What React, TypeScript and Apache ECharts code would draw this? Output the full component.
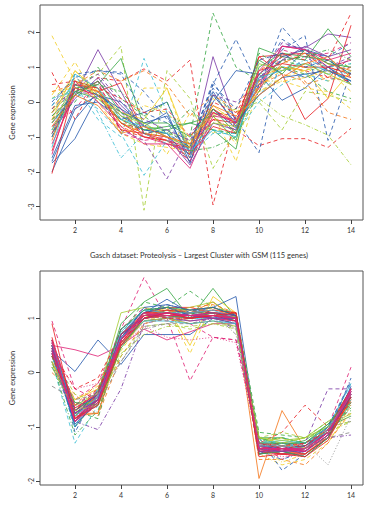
import React, { useEffect, useRef } from "react";
import * as echarts from "echarts";

const timePoints = [1, 2, 3, 4, 5, 6, 7, 8, 9, 10, 11, 12, 13, 14];
const xTicks = [2, 4, 6, 8, 10, 12, 14];
const topYTicks = [-3, -2, -1, 0, 1, 2];
const bottomYTicks = [-2, -1, 0, 1];
const bottomTitle = "Gasch dataset: Proteolysis \u2013 Largest Cluster with GSM (115 genes)";
const yName = "Gene expression";

// Top cluster: expression profiles
const topGenes: number[][] = [
  [-0.6, 0.2, 1.5, 0.3, -0.9, -1.0, -1.5, 1.3, -0.6, 0.3, 1.6, 1.55, 1.95, 1.85],
  [-0.3, 0.6, 0.4, -0.6, -0.8, -0.9, -1.0, 2.55, 1.0, 0.6, 1.2, 1.0, 0.8, 1.1],
  [-0.2, 0.5, 0.8, 1.6, -3.1, 0.9, 0.1, -1.9, -0.8, 0.8, 1.0, 0.9, 1.2, 1.0],
  [0.85, -0.5, 0.7, 0.6, 0.95, 0.6, 1.2, -2.95, -0.4, 0.7, 1.0, 0.9, 0.7, 1.3],
  [-0.3, 0.4, 0.2, -0.8, -1.0, -1.1, -1.7, -0.5, -0.8, -1.25, -1.05, -1.05, -1.3, -0.75],
  [1.9, 0.6, 0.2, -0.9, -1.2, -1.3, -1.4, -0.3, -1.7, 0.5, 0.9, 1.0, 0.6, 0.8],
  [-0.1, 0.8, 0.9, 0.85, 0.3, -0.5, -1.2, 0.5, 1.8, 0.4, 2.15, 1.4, 1.0, 1.2],
  [-0.6, 0.3, 0.6, -0.2, -0.8, -0.9, -1.3, 0.6, -0.5, -1.45, 1.5, 1.9, -1.1, 0.9],
  [-0.9, 0.5, 0.3, 0.55, -0.9, -1.1, -1.3, -0.5, -0.6, 1.3, 0.8, -0.5, 0.1, 2.2],
  [-0.5, 0.3, 0.5, -0.5, -0.9, -1.0, -1.3, -0.3, -0.4, 0.5, 1.3, 1.5, 1.2, 2.55],
  [-0.8, 0.4, 0.5, 1.25, -0.7, -0.8, -0.6, -0.8, -1.35, 1.55, 1.3, 1.2, 2.1, 1.3],
  [-0.3, 0.4, 0.3, -0.6, -0.9, -0.8, -1.2, 0.2, -0.3, 0.1, -0.4, -0.65, -0.95, -1.8],
  [0.1, 0.6, 0.4, -0.4, -0.7, -0.9, -1.1, -0.4, -0.2, 0.0, -0.8, 0.3, 0.2, 0.0],
  [-0.1, 0.5, -0.5, -1.0, 1.25, -0.3, -1.2, -0.8, -0.9, 0.5, 1.0, 1.1, 0.8, 0.9],
  [-0.4, 0.3, 0.2, -0.8, -1.1, -2.2, -0.9, -0.2, -0.7, 0.6, 1.2, 1.3, 0.9, 1.0],
  [-1.75, -1.05, 0.2, 0.0, -0.7, -0.3, -1.75, 0.3, -0.7, 0.8, 1.3, 1.5, 1.3, 0.5],
  [-2.0, -0.5, 0.3, -0.4, -0.8, -0.9, -1.7, -0.2, -0.75, 0.5, 1.0, 0.7, 1.0, 0.6],
  [-1.6, -0.1, 0.0, -0.5, -0.3, 0.0, -1.5, 0.0, 0.9, 0.8, 0.05, 0.4, 1.0, 0.5],
  [-2.05, 0.5, 0.4, -0.8, -0.9, -1.2, -1.3, -0.2, -0.6, 1.3, 1.35, 1.4, 0.9, 0.7],
  [-0.2, 0.7, 0.3, -0.7, -1.0, -1.1, -1.6, -0.4, -0.9, 0.5, 0.8, 0.6, -0.3, -0.5],
  [0.2, 1.15, 0.0, -0.9, 0.4, 0.4, -1.5, 0.1, -0.3, 0.3, 0.7, 0.9, 1.1, 0.5],
  [-0.5, 0.9, 0.3, -0.3, -0.5, 0.4, -1.3, -0.1, -0.6, 0.7, 1.0, 0.9, 0.1, 0.9],
  [-1.2, 0.2, 0.6, -0.2, -1.0, -1.2, -1.9, -0.4, -0.5, 0.4, 1.6, 1.5, 1.0, 1.2],
  [-1.0, 0.3, 0.1, -0.5, -0.8, -0.7, -0.6, -0.4, -1.1, 1.0, 1.4, 1.3, 1.2, 0.8],
  [-0.8, 0.8, -0.3, -1.6, -0.9, -1.2, -1.4, -0.6, -0.8, 0.2, 0.9, 1.2, 1.0, 1.1],
  [-0.9, 0.1, 0.7, -0.1, -0.7, -1.0, -1.8, -0.6, -0.8, 0.7, 1.2, 1.6, 1.3, 1.5],
  [-1.1, 0.6, 0.3, -0.6, -0.9, -1.0, -1.2, -0.3, -0.6, 0.4, 1.1, 1.4, 1.1, 0.9],
  [0.0, 0.7, 0.9, 0.8, -0.3, -0.6, -1.4, 0.4, -0.5, 0.6, 1.8, 1.4, 1.3, 1.7],
  [-0.5, 0.0, 1.0, 0.1, -0.4, -0.9, -0.2, -0.8, -0.9, 1.4, 1.0, 0.8, 0.3, 0.1],
  [-1.4, 0.4, 0.2, -0.6, -1.0, -1.1, -1.5, -0.7, -0.9, 0.9, 1.1, 1.0, 1.0, 0.8],
  [-0.7, -0.2, 0.6, -0.9, -1.1, -1.0, -1.7, -0.3, -0.6, 0.6, 1.5, 1.3, 1.4, 1.7],
  [-1.3, 0.8, 0.4, -0.5, -0.7, -0.9, -1.4, -0.8, -1.0, 0.7, 0.9, 1.1, 0.9, 0.6],
  [0.3, 0.4, 0.1, -0.3, -0.6, -1.5, -0.3, -0.9, -0.5, 0.3, 0.6, 0.4, 0.3, -0.2],
  [-0.4, 0.2, 0.6, -0.3, -0.6, -0.6, -1.0, -0.2, -0.9, 1.2, 0.8, 1.5, 1.1, 1.0],
  [0.3, 0.5, 0.9, 0.6, 0.9, 0.5, -0.4, 0.2, -0.2, 0.9, 1.3, 0.5, 0.7, 1.0],
  [-1.7, -0.2, 0.2, -0.2, -0.6, -0.4, -1.6, 0.2, -0.6, 0.2, 0.7, 0.8, 0.9, 0.6],
  [-0.2, 0.4, 0.8, 0.0, -0.5, -0.8, -1.1, 0.2, 0.0, 0.5, 1.7, 1.5, 1.0, 1.3],
  [0.5, 0.6, 0.4, 0.1, -0.3, -0.2, -1.0, 0.0, -0.3, 0.8, 1.4, 1.2, 0.7, 0.6],
  [-0.6, 0.5, 0.2, -0.4, -0.6, -1.0, -1.3, -0.6, -0.7, 1.1, 0.9, 1.1, 0.8, 0.5],
  [0.1, 0.3, -0.2, -0.9, -2.1, -1.1, -1.5, -0.9, -0.9, 0.0, 0.5, 0.8, 0.6, 0.9],
  [-1.5, 0.6, 0.0, -0.7, -1.2, -1.2, -1.4, -0.3, -0.6, 0.9, 1.6, 1.5, 1.2, 1.4],
  [-0.9, 0.3, 0.5, 0.3, -0.4, 0.0, -1.4, -1.3, -1.0, 0.3, 1.2, 1.3, 1.5, 1.2],
  [-0.7, 0.2, -0.1, -0.9, -0.7, -1.0, -1.2, -0.1, -0.4, 0.2, 0.7, 1.1, 1.3, 0.7],
  [-1.0, 0.5, 0.2, -0.3, -0.9, -0.8, -1.3, 0.5, -0.2, 1.2, 1.4, 1.0, 1.2, 0.8],
  [-0.3, 0.9, 0.2, -0.6, -0.1, -0.3, -1.0, -0.4, -1.2, 0.6, 0.6, 0.7, 0.9, 0.3],
];
const topColors = [
  "purple", "green", "lime", "red", "red", "yellow", "blue", "blue", "red", "red",
  "green", "lime", "lime", "cyan", "purple", "blue", "blue", "blue", "red", "orange",
  "yellow", "yellow", "magenta", "green", "cyan", "purple", "orange", "blue", "green", "red",
  "magenta", "cyan", "yellow", "green", "orange", "blue", "purple", "red", "lime", "cyan",
  "magenta", "green", "orange", "blue", "yellow",
];
const topLty = [
  "s", "d", "d", "d", "d", "d", "d", "d", "s", "d",
  "s", "dd", "d", "d", "d", "s", "s", "s", "s", "d",
  "d", "s", "s", "s", "dd", "s", "s", "d", "d", "s",
  "d", "s", "d", "s", "d", "s", "d", "d", "s", "d",
  "s", "dd", "s", "d", "dd",
];

// Bottom cluster: 115-gene proteolysis cluster (subset of profiles)
const bottomGenes: number[][] = [
  [0.4, 0.02, 0.6, 0.15, 0.7, 0.7, 0.7, 1.0, 1.1, -1.3, -1.3, -1.3, -1.0, -0.3],
  [0.5, 0.42, 0.3, 0.5, 0.8, 0.6, 0.75, 0.9, 0.9, -1.4, -1.5, -1.5, -1.2, -0.5],
  [0.95, -0.3, -0.5, 0.8, 1.75, 1.0, -0.15, 0.65, 0.6, -1.3, -1.6, -1.4, -1.0, 0.1],
  [0.2, -0.6, -0.5, 0.4, 1.0, 1.2, 0.35, 1.3, 1.0, -1.5, -1.7, -1.6, -1.3, -0.6],
  [0.5, -1.0, -0.5, 0.9, 1.3, 1.55, 1.0, 1.55, 1.0, -1.2, -1.2, -1.3, -1.0, -0.8],
  [0.5, -0.8, -0.75, 0.5, 1.1, 1.2, 1.1, 1.3, 1.0, -1.95, -0.7, -1.4, -1.0, -0.3],
  [0.3, -0.6, -0.3, 0.7, 1.0, 1.1, 1.1, 1.1, 1.0, -1.3, -1.1, -0.6, -1.0, -0.5],
  [0.6, -1.1, -0.3, 0.8, 1.1, 1.2, 1.1, 1.0, 0.9, -1.2, -1.8, -1.5, -1.0, -0.2],
  [0.3, -0.7, -0.5, 0.5, 0.9, 1.0, 1.0, 1.1, 0.9, -1.3, -1.4, -1.3, -1.7, -0.8],
  [0.2, -0.9, -1.05, -0.3, 0.9, 1.0, 0.9, 1.0, 0.8, -1.4, -1.3, -1.4, -1.2, -1.15],
  [0.3, -0.5, -0.2, 0.8, 1.2, 1.0, 0.9, 0.65, 0.6, -1.3, -1.4, -1.3, -1.1, -0.4],
  [0.3, -0.9, -0.4, 0.6, 1.1, 1.35, 1.1, 1.2, 1.4, -1.4, -1.5, -1.4, -1.1, -0.3],
  [0.2, -1.3, -0.6, 0.5, 1.0, 1.1, 1.0, 1.0, 0.9, -1.3, -1.2, -1.3, -1.1, -0.6],
  [0.65, -0.8, -0.4, 0.6, 1.1, 1.2, 1.2, 1.1, 1.1, -1.5, -1.4, -1.5, -1.2, -0.4],
  [0.0, -0.4, -0.8, 0.3, 0.9, 1.0, 1.1, 1.2, 1.0, -1.6, -1.6, -1.7, -1.3, -0.7],
  [0.1, -0.7, -0.85, 0.7, 1.3, 1.2, 1.5, 1.2, 1.1, -1.1, -1.15, -1.2, -0.9, -0.7],
  [0.3, -0.6, -0.4, 1.1, 1.2, 1.1, 1.2, 1.3, 1.0, -1.2, -1.3, -1.2, -0.9, -0.6],
  [0.4, -1.0, -0.3, 0.5, 1.0, 1.05, 1.0, 1.0, 0.95, -1.4, -1.3, -1.4, -1.0, -0.2],
  [0.5, -0.7, -0.4, 0.6, 1.1, 1.0, 1.1, 1.1, 1.0, -1.5, -1.4, -1.4, -1.1, -0.4],
  [0.3, -0.5, -0.3, 0.5, 1.0, 1.2, 0.5, 1.4, 1.1, -1.3, -1.2, -1.4, -1.1, -0.5],
  [0.2, -0.75, -0.75, 0.6, 1.1, 1.1, 1.0, 1.1, 1.05, -1.4, -1.5, -1.4, -1.2, -0.5],
  [0.6, -0.9, -0.5, 0.7, 1.15, 1.2, 1.05, 1.0, 1.0, -1.3, -1.4, -1.5, -1.2, -0.4],
  [0.4, -0.85, -0.6, 0.7, 1.0, 1.15, 1.1, 1.1, 0.95, -1.2, -1.35, -1.25, -0.95, -0.55],
  [0.45, -0.8, -0.5, 0.6, 1.0, 1.05, 0.95, 1.0, 0.95, -1.45, -1.5, -1.45, -1.15, -0.35],
  [0.1, -0.6, -0.6, 0.2, 0.8, 0.9, 1.0, 1.1, 0.7, -1.3, -1.5, -1.4, -1.0, -0.9],
  [0.4, -0.3, -0.1, 0.7, 1.0, 0.95, 1.0, 1.15, 1.1, -1.35, -1.3, -1.35, -1.05, -0.3],
  [0.3, -0.4, -0.55, 0.3, 0.85, 0.9, 0.8, 0.9, 0.85, -1.2, -1.1, -1.2, -1.0, -0.9],
  [0.5, -1.0, -0.45, 0.8, 1.1, 1.25, 1.15, 1.1, 1.0, -1.45, -1.6, -1.45, -1.15, -0.1],
  [0.35, -0.9, -0.5, 0.5, 0.95, 1.0, 1.05, 1.05, 1.0, -1.25, -1.3, -1.35, -1.05, -0.5],
  [0.6, -0.6, -0.35, 0.65, 1.05, 1.15, 1.0, 1.05, 0.95, -1.4, -1.45, -1.3, -0.3, -0.3],
  [0.6, -0.7, -0.45, 0.55, 1.05, 1.15, 1.15, 1.2, 1.05, -1.5, -1.45, -1.5, -1.15, -0.45],
  [0.55, -0.85, -0.5, 0.7, 1.1, 1.1, 1.05, 1.1, 1.05, -1.45, -1.4, -1.45, -1.1, -0.35],
  [0.4, -0.75, -0.45, 0.6, 1.05, 1.05, 1.0, 1.05, 1.0, -1.35, -1.45, -1.35, -1.05, -0.45],
  [0.2, -1.15, -0.7, 0.55, 1.05, 1.1, 1.1, 1.0, 0.9, -1.25, -1.2, -1.3, -1.1, -0.65],
  [0.15, -0.5, -0.25, 0.45, 0.95, 1.05, 0.95, 1.2, 1.0, -1.35, -1.65, -1.5, -1.25, -0.75],
  [0.35, -0.95, -0.55, 0.5, 1.0, 1.1, 1.0, 1.05, 0.95, -1.5, -1.45, -1.55, -1.2, -0.25],
  [0.45, -0.7, -0.35, 0.65, 1.1, 1.15, 1.1, 1.15, 1.1, -1.4, -1.35, -1.4, -1.05, -0.3],
  [0.3, -0.8, -0.45, 0.75, 1.15, 1.1, 1.1, 1.15, 1.0, -1.3, -1.25, -1.3, -1.0, -0.5],
  [0.5, -0.6, -0.2, 0.6, 1.0, 1.1, 1.2, 1.25, 1.1, -1.35, -1.35, -1.35, -1.1, -0.4],
  [0.35, -0.85, -0.5, 0.5, 0.95, 1.0, 0.95, 1.0, 0.9, -1.35, -1.4, -1.4, -1.1, -0.45],
  [0.55, -0.9, -0.6, 0.6, 1.05, 1.05, 1.0, 1.1, 1.0, -1.4, -1.35, -1.45, -1.1, -0.3],
  [0.2, -0.65, -0.5, 0.5, 0.95, 1.0, 0.9, 0.95, 0.85, -1.2, -1.25, -1.2, -1.0, -0.75],
  [0.45, -0.8, -0.35, 0.8, 1.15, 1.2, 1.15, 1.2, 1.05, -1.3, -1.3, -1.3, -0.95, -0.45],
  [0.6, -0.85, -0.55, 0.55, 1.0, 1.05, 1.05, 1.05, 1.0, -1.45, -1.5, -1.5, -1.2, -0.4],
  [0.4, -0.75, -0.4, 0.65, 1.1, 1.2, 1.05, 1.1, 1.05, -1.35, -1.4, -1.35, -1.0, -0.15],
  [0.5, -0.75, -0.5, 0.65, 1.05, 1.1, 1.05, 1.1, 1.05, -1.4, -1.45, -1.4, -1.1, -0.35],
  [0.35, -0.65, -0.4, 0.7, 1.05, 1.1, 1.0, 1.05, 1.0, -1.3, -1.35, -1.3, -1.05, -0.5],
  [0.3, -0.55, -0.6, 0.45, 1.0, 1.05, 1.0, 1.1, 1.0, -1.5, -1.45, -1.55, -1.2, -0.55],
  [0.45, -0.85, -0.45, 0.6, 1.0, 1.1, 1.0, 1.05, 1.0, -1.35, -1.45, -1.4, -1.05, -0.4],
  [0.5, -0.7, -0.4, 0.6, 1.2, 1.25, 1.15, 1.2, 1.05, -1.4, -1.4, -1.35, -1.1, -0.45],
  [0.4, -0.9, -0.5, 0.55, 1.0, 1.05, 1.05, 1.0, 0.95, -1.45, -1.4, -1.45, -1.15, -0.3],
  [0.55, -0.8, -0.45, 0.65, 0.95, 0.95, 0.9, 0.95, 0.9, -1.35, -1.35, -1.4, -1.05, -0.4],
  [0.3, -0.7, -0.3, 0.55, 1.05, 1.0, 1.0, 1.05, 0.95, -1.3, -1.4, -1.35, -1.05, -0.55],
  [0.45, -0.75, -0.5, 0.7, 1.0, 1.1, 1.05, 1.0, 1.0, -1.45, -1.45, -1.45, -1.15, -0.35],
  [0.6, -0.65, -0.4, 0.6, 1.1, 1.05, 1.05, 1.1, 1.0, -1.4, -1.4, -1.45, -1.1, -0.4],
  [-0.25, -0.5, -0.4, 0.2, 0.85, 0.9, 0.9, 0.95, 0.85, -1.3, -1.35, -1.4, -1.2, -1.1],
  [0.1, -0.7, -0.6, 0.35, 0.7, 0.85, 0.85, 0.9, 0.8, -1.2, -1.3, -1.2, -1.1, -0.9],
  [0.35, -0.3, -0.2, 0.5, 0.85, 0.65, 0.6, 0.65, 0.55, -1.4, -1.55, -1.5, -1.2, -0.6],
  [0.9, -0.85, -0.6, 0.5, 1.0, 1.1, 1.0, 1.05, 1.1, -1.55, -1.5, -1.55, -1.25, -0.45],
  [0.55, -0.9, -0.55, 0.6, 1.05, 1.1, 1.05, 1.05, 1.0, -1.4, -1.4, -1.4, -1.1, -0.35],
];
const bottomColors = [
  "blue", "magenta", "magenta", "yellow", "green", "orange", "red", "blue", "gray", "purple",
  "magenta", "blue", "cyan", "red", "orange", "green", "lime", "cyan", "purple", "yellow",
  "orange", "blue", "green", "magenta", "gray", "red", "lime", "blue", "cyan", "purple",
  "orange", "red", "magenta", "green", "yellow", "blue", "red", "cyan", "orange", "purple",
  "magenta", "lime", "green", "red", "blue", "purple", "red", "green", "magenta", "blue",
  "magenta", "cyan", "red", "purple", "magenta", "gray", "lime", "magenta", "red", "magenta",
];
const bottomLty = [
  "s", "s", "d", "d", "s", "s", "d", "d", "o", "dd",
  "d", "s", "d", "s", "d", "d", "s", "s", "s", "s",
  "s", "s", "s", "s", "dd", "d", "d", "dd", "dd", "d",
  "s", "s", "s", "dd", "dd", "s", "s", "s", "d", "s",
  "d", "s", "s", "s", "d", "s", "d", "s", "s", "s",
  "s", "s", "d", "s", "s", "d", "dd", "o", "s", "s",
];

const palette: Record<string, string> = {
  red: "#E8262A",
  orange: "#F47A20",
  yellow: "#F2CF2A",
  lime: "#A8CF3A",
  green: "#3DAA4A",
  cyan: "#3FBFD4",
  blue: "#2D5FB0",
  purple: "#7D3FA8",
  magenta: "#E0287A",
  gray: "#8A8A8A",
};
const dashes: Record<string, any> = {
  s: "solid",
  d: [4, 3],
  dd: [1, 2, 4, 2],
  o: [1, 2],
};

const FONT = "Lato";

function makeSeries(genes: number[][], colors: string[], lty: string[], gi: number) {
  return genes.map((g, k) => ({
    type: "line",
    xAxisIndex: gi,
    yAxisIndex: gi,
    data: g.map((v, i) => [timePoints[i], v]),
    symbol: "none",
    silent: true,
    animation: false,
    lineStyle: { width: 0.85, color: palette[colors[k]], type: dashes[lty[k]] },
    emphasis: { disabled: true },
  }));
}

function xAxis(gi: number) {
  return {
    type: "value",
    gridIndex: gi,
    min: 0.48,
    max: 14.52,
    axisLine: { show: false, onZero: false },
    splitLine: { show: false },
    axisTick: { show: true, customValues: xTicks, length: 4, lineStyle: { color: "#444", width: 1 } },
    axisLabel: { customValues: xTicks, fontSize: 7, color: "#333", margin: 6, fontFamily: FONT },
  };
}

function yAxis(gi: number, min: number, max: number, ticks: number[]) {
  return {
    type: "value",
    gridIndex: gi,
    min,
    max,
    axisLine: { show: false, onZero: false },
    splitLine: { show: false },
    axisTick: { show: true, customValues: ticks, length: 4, lineStyle: { color: "#444", width: 1 } },
    axisLabel: { customValues: ticks, fontSize: 7, color: "#333", margin: 6, rotate: 90, fontFamily: FONT },
    name: yName,
    nameLocation: "middle",
    nameGap: 24,
    nameRotate: 90,
    nameTextStyle: { fontSize: 7.5, color: "#333", fontFamily: FONT },
  };
}

export default function App() {
  const ref = useRef<HTMLDivElement>(null);
  useEffect(() => {
    if (!ref.current) return;
    const chart = echarts.init(ref.current, null, { renderer: "svg" });
    const gridStyle = { show: true, borderColor: "#555", borderWidth: 1, backgroundColor: "transparent" };
    chart.setOption({
      animation: false,
      grid: [
        { left: 36, top: 5, width: 327, height: 215, ...gridStyle },
        { left: 36, top: 271, width: 327, height: 214, ...gridStyle },
      ],
      xAxis: [xAxis(0), xAxis(1)],
      yAxis: [yAxis(0, -3.38, 2.78, topYTicks), yAxis(1, -2.07, 1.87, bottomYTicks)],
      graphic: [
        {
          type: "text",
          x: 199,
          y: 255,
          style: {
            text: bottomTitle,
            fontSize: 7.5,
            fontFamily: FONT,
            fill: "#333",
            align: "center",
            verticalAlign: "middle",
          },
        },
      ],
      series: [
        ...makeSeries(topGenes, topColors, topLty, 0),
        ...makeSeries(bottomGenes, bottomColors, bottomLty, 1),
      ],
    });
    return () => chart.dispose();
  }, []);
  return (
    <div
      ref={ref}
      style={{ position: "absolute", left: 0, top: 0, width: 370, height: 510, background: "#fff" }}
    />
  );
}
